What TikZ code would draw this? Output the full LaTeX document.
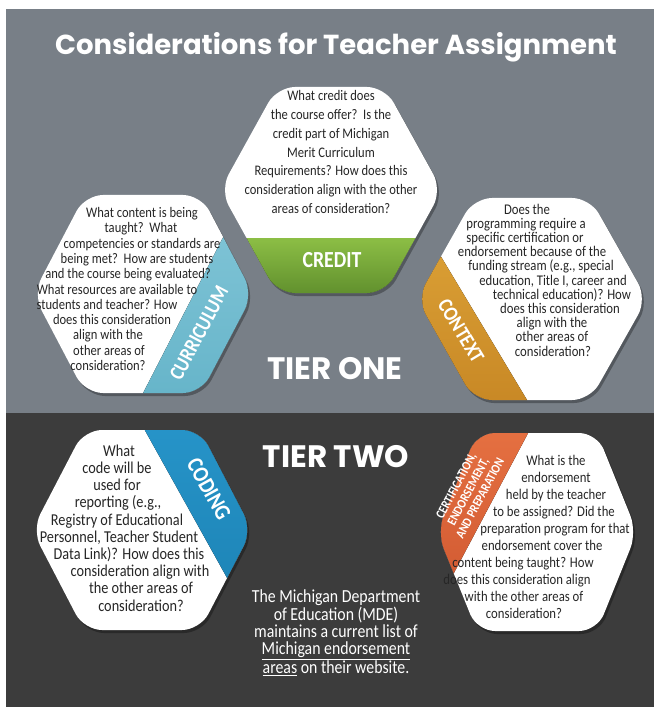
\documentclass[tikz,border=0pt]{standalone}
\usepackage{fontspec}
\setmainfont{Carlito}
\newfontfamily\questionfont[FakeStretch=0.86]{Carlito}
\newfontfamily\tierfont{Poppins}

\definecolor{tieronebg}{HTML}{787F87}
\definecolor{tiertwobg}{HTML}{3C3C3C}
\definecolor{questiontext}{HTML}{262626}
\definecolor{credittop}{HTML}{8CBE45}
\definecolor{creditbot}{HTML}{5C8B2B}
\definecolor{curriculumtop}{HTML}{8ACADB}
\definecolor{curriculumbot}{HTML}{5BAEC4}
\definecolor{contexttop}{HTML}{E2A93C}
\definecolor{contextbot}{HTML}{C07E1E}
\definecolor{codingtop}{HTML}{2A9AD0}
\definecolor{codingbot}{HTML}{1A7FB0}
\definecolor{certtop}{HTML}{EE7A48}
\definecolor{certbot}{HTML}{C8502B}

\tikzset{
  hexfill/.style={fill=white,rounded corners=18pt},
  hexshadow/.style={fill=black,opacity=0.3,rounded corners=18pt},
  question/.style={align=center,text=questiontext,inner sep=0pt},
  bandlabel/.style={text=white,inner sep=0pt},
  tierlabel/.style={text=white,font=\tierfont\bfseries\fontsize{31}{31}\selectfont,inner sep=0pt},
}

% flat topped hexagon: centre x, centre y, half width, half height, half top edge
\newcommand{\hexpath}[5]{(#1-#3,#2) -- (#1-#5,#2-#4) -- (#1+#5,#2-#4) -- (#1+#3,#2) -- (#1+#5,#2+#4) -- (#1-#5,#2+#4) -- cycle}
\newcommand{\nudge}[1]{\hspace*{#1pt}}
\newcommand{\qsize}[2]{\questionfont\fontsize{#1}{#2}\selectfont}

\begin{document}
\begin{tikzpicture}[x=1pt,y=-1pt]
\useasboundingbox (0,0) rectangle (654,711);
\fill[tieronebg] (6,9) rectangle (654,413);
\fill[tiertwobg] (6,413) rectangle (654,707);

\node[text=white,font=\tierfont\bfseries\fontsize{27.5}{27.5}\selectfont] (title) at (336,47) {Considerations for Teacher Assignment};

% credit
\fill[hexshadow] \hexpath{333}{193}{111}{103}{54};
\fill[hexfill] \hexpath{331}{190}{111}{103}{54};
\begin{scope}
  \clip[rounded corners=18pt] \hexpath{331}{190}{111}{103}{54};
  \fill[top color=credittop,bottom color=creditbot] (200,238) rectangle (460,300);
\end{scope}
\node[bandlabel,font=\questionfont\bfseries\fontsize{23}{23}\selectfont] (credit) at (332,260) {CREDIT};
\node[question,font=\qsize{14.6}{18.8}] (creditq) at (331,152) {What credit does\\
the course offer?\ \ Is the\\
credit part of Michigan\\
Merit Curriculum\\
Requirements? How does this\\
consideration align with the other\\
areas of consideration?};

% curriculum
\fill[hexshadow] \hexpath{145}{297}{110}{99}{58};
\fill[hexfill] \hexpath{143}{294}{110}{99}{58};
\begin{scope}
  \clip[rounded corners=18pt] \hexpath{143}{294}{110}{99}{58};
  \fill[top color=curriculumtop,bottom color=curriculumbot] (269,148) -- (101,475) -- (300,475) -- (300,148) -- cycle;
\end{scope}
\node[bandlabel,rotate=62,font=\questionfont\bfseries\fontsize{21}{21}\selectfont] (curriculum) at (199,333) {CURRICULUM};
\node[question,font=\qsize{14.6}{15.3}] (curriculumq) at (125,289) {\nudge{34}What content is being\\
\nudge{32}taught?\ \ What\\
\nudge{34}competencies or standards are\\
\nudge{24}being met?\ \ How are students\\
\nudge{6}and the course being evaluated?\\
\nudge{-16}What resources are available to\\
\nudge{-36}students and teacher? How\\
\nudge{-26}does this consideration\\
\nudge{-34}align with the\\
\nudge{-32}other areas of\\
\nudge{-34}consideration?};

% context
\fill[hexshadow] \hexpath{534}{302}{115}{101}{58};
\fill[hexfill] \hexpath{532}{299}{115}{101}{58};
\begin{scope}
  \clip[rounded corners=18pt] \hexpath{532}{299}{115}{101}{58};
  \fill[top color=contexttop,bottom color=contextbot] (392,175) -- (572,475) -- (380,475) -- (380,175) -- cycle;
\end{scope}
\node[bandlabel,rotate=-59,font=\questionfont\bfseries\fontsize{21}{21}\selectfont] (context) at (461,331) {CONTEXT};
\node[question,font=\qsize{14.8}{14.2}] (contextq) at (543,280) {\nudge{-32}Does the\\
\nudge{-34}programming require a\\
\nudge{-36}specific certification or\\
\nudge{-22}endorsement because of the\\
\nudge{-4}funding stream (e.g., special\\
\nudge{20}education, Title I, career and\\
\nudge{38}technical education)? How\\
\nudge{34}does this consideration\\
\nudge{18}align with the\\
\nudge{18}other areas of\\
\nudge{20}consideration?};

% coding
\fill[hexshadow] \hexpath{144}{533}{110}{100}{58};
\fill[hexfill] \hexpath{142}{530}{110}{100}{58};
\begin{scope}
  \clip[rounded corners=18pt] \hexpath{142}{530}{110}{100}{58};
  \fill[top color=codingtop,bottom color=codingbot] (103,355) -- (270,655) -- (300,655) -- (300,355) -- cycle;
\end{scope}
\node[bandlabel,rotate=-61,font=\questionfont\bfseries\fontsize{23}{23}\selectfont] (coding) at (209,489) {CODING};
\node[question,font=\qsize{16.6}{17.2}] (codingq) at (126,528) {\nudge{-14}What\\
\nudge{-18}code will be\\
\nudge{-18}used for\\
\nudge{-16}reporting (e.g.,\\
\nudge{-18}Registry of Educational\\
\nudge{-14}Personnel, Teacher Student\\
\nudge{6}Data Link)? How does this\\
\nudge{28}consideration align with\\
\nudge{30}the other areas of\\
\nudge{30}consideration?};

% certification
\fill[hexshadow] \hexpath{539}{535}{100}{99}{60};
\fill[hexfill] \hexpath{537}{532}{100}{99}{60};
\begin{scope}
  \clip[rounded corners=18pt] \hexpath{537}{532}{100}{99}{60};
  \fill[top color=certtop,bottom color=certbot] (570,354) -- (403,669) -- (400,669) -- (400,354) -- cycle;
\end{scope}
\node[bandlabel,rotate=62,align=center,font=\questionfont\bfseries\fontsize{13}{13.5}\selectfont] (cert) at (468,492) {CERTIFICATION,\\ENDORSEMENT,\\AND PREPARATION};
\node[question,font=\qsize{14.8}{17}] (certq) at (541,537) {\nudge{30}What is the\\
\nudge{30}endorsement\\
\nudge{30}held by the teacher\\
\nudge{26}to be assigned? Did the\\
\nudge{28}preparation program for that\\
\nudge{2}endorsement cover the\\
\nudge{-36}content being taught? How\\
\nudge{-48}does this consideration align\\
\nudge{-34}with the other areas of\\
\nudge{-34}consideration?};

\node[tierlabel] (tierone) at (335,369) {TIER ONE};
\node[tierlabel] (tiertwo) at (336,457) {TIER TWO};

\node[text=white,align=center,inner sep=0pt,font=\qsize{18.4}{17.4}] (note) at (336,633) {The Michigan Department\\
of Education (MDE)\\
maintains a current list of\\
\underline{Michigan endorsement}\\
\underline{areas} on their website.};
\end{tikzpicture}
\end{document}
